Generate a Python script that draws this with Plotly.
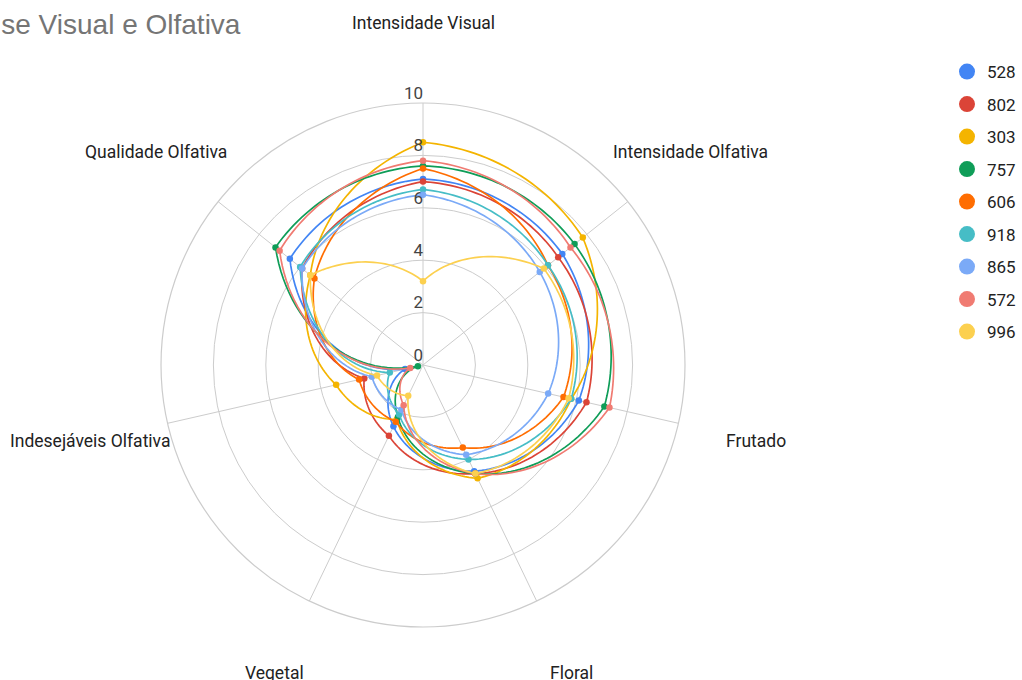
import math
import plotly.graph_objects as go

# Attributes scored for each sample (clockwise from the top)
CATEGORIES = [
    "Intensidade Visual",
    "Intensidade Olfativa",
    "Frutado",
    "Floral",
    "Vegetal",
    "Indesejáveis Olfativa",
    "Qualidade Olfativa",
]

# Mean panel scores per sample code
s528 = [7.1, 6.8, 6.1, 4.5, 2.6, 0.7, 6.5]
s802 = [7.0, 6.6, 6.4, 4.6, 3.0, 2.3, 5.9]
s303 = [8.5, 7.8, 5.8, 4.8, 2.3, 3.4, 5.5]
s757 = [7.6, 7.4, 7.1, 4.6, 2.2, 0.2, 7.2]
s606 = [7.5, 6.1, 5.5, 3.5, 2.4, 2.5, 5.3]
s918 = [6.7, 6.1, 5.8, 4.0, 2.1, 1.3, 6.0]
s865 = [6.5, 5.7, 4.9, 3.8, 1.9, 2.0, 5.9]
s572 = [7.8, 7.2, 7.3, 4.6, 1.7, 0.5, 7.0]
s996 = [3.2, 5.9, 5.7, 4.6, 1.3, 1.8, 5.5]

SAMPLES = ["528", "802", "303", "757", "606", "918", "865", "572", "996"]
VALUES = [s528, s802, s303, s757, s606, s918, s865, s572, s996]
COLORS = ["#4285F4", "#DB4437", "#F4B400", "#0F9D58", "#FF6D01",
          "#46BDC6", "#7BAAF7", "#F07B72", "#FCD04F"]

RADIAL_TICKS = [0, 2, 4, 6, 8, 10]
R_MAX = 10

STEP = 360 / len(CATEGORIES)
ANGLES = [i * STEP for i in range(len(CATEGORIES))]


def radar_edge(values, sub=30):
    """Edge path of a radar series: between two spokes the radius
    changes linearly with the angle (a straight line in polar space)."""
    n = len(values)
    rr, tt = [], []
    for i in range(n):
        r0, r1 = values[i], values[(i + 1) % n]
        for k in range(sub):
            f = k / sub
            rr.append(r0 + (r1 - r0) * f)
            tt.append(ANGLES[i] + STEP * f)
    rr.append(values[0])
    tt.append(360.0)
    return rr, tt


fig = go.Figure()

for name, vals, col in zip(SAMPLES, VALUES, COLORS):
    er, et = radar_edge(vals)
    fig.add_trace(go.Scatterpolar(
        r=er, theta=et, mode="lines",
        line=dict(color=col, width=1.7),
        hoverinfo="skip", showlegend=False, legendgroup=name,
    ))
    fig.add_trace(go.Scatterpolar(
        r=vals, theta=ANGLES, mode="markers", name=name,
        marker=dict(color=col, size=6.5),
        showlegend=False, legendgroup=name,
        customdata=CATEGORIES,
        hovertemplate="%{customdata}: %{r}<extra>" + name + "</extra>",
    ))

# legend swatches
for name, col in zip(SAMPLES, COLORS):
    fig.add_trace(go.Scatterpolar(
        r=[None], theta=[None], mode="markers", name=name,
        marker=dict(color=col, size=17),
        legendgroup=name, showlegend=True, hoverinfo="skip",
    ))

# radial tick labels along the top spoke
fig.add_trace(go.Scatterpolar(
    r=RADIAL_TICKS, theta=[ANGLES[0]] * len(RADIAL_TICKS),
    mode="text", text=[str(v) for v in RADIAL_TICKS],
    textposition="top left",
    textfont=dict(family="Roboto", size=17, color="#444444"),
    hoverinfo="skip", showlegend=False, cliponaxis=False,
))

W, H = 1022, 680
cx, cy, rad = 423, 365, 262      # polar centre and outer radius (px)
LABEL_R = 1.305 * rad            # category labels sit well outside the ring

annotations = [dict(
    text="Análise Visual e Olfativa", xref="paper", yref="paper",
    x=-63 / W, y=1 - 25 / H, xanchor="left", yanchor="middle",
    showarrow=False,
    font=dict(family="Liberation Sans", size=28, color="#757575"),
)]
for cat, ang in zip(CATEGORIES, ANGLES):
    a = math.radians(ang)
    px = cx + LABEL_R * math.sin(a)
    py = cy - LABEL_R * math.cos(a)
    annotations.append(dict(
        text=cat, xref="paper", yref="paper",
        x=px / W, y=1 - py / H, xanchor="center", yanchor="middle",
        showarrow=False,
        font=dict(family="Roboto", size=17.5, color="#222222"),
    ))

fig.update_layout(
    width=W, height=H,
    margin=dict(l=0, r=0, t=0, b=0),
    paper_bgcolor="white",
    font=dict(family="Roboto", color="#222222"),
    polar=dict(
        domain=dict(x=[(cx - rad) / W, (cx + rad) / W],
                    y=[(H - cy - rad) / H, (H - cy + rad) / H]),
        bgcolor="white",
        radialaxis=dict(range=[0, R_MAX], tickvals=RADIAL_TICKS,
                        showticklabels=False, ticks="", showline=False,
                        gridcolor="#CCCCCC", gridwidth=1.2, angle=90),
        angularaxis=dict(rotation=90, direction="clockwise",
                         tickmode="array", tickvals=ANGLES,
                         showticklabels=False, ticks="",
                         gridcolor="#CCCCCC", gridwidth=1.2,
                         linecolor="#CCCCCC", linewidth=1.2,
                         showline=True),
    ),
    legend=dict(x=947 / W, xanchor="left", y=1 - 54 / H, yanchor="top",
                font=dict(family="Roboto", size=17, color="#222222"),
                tracegroupgap=7.4, bgcolor="rgba(0,0,0,0)"),
    annotations=annotations,
)

fig.write_html("out.html")
